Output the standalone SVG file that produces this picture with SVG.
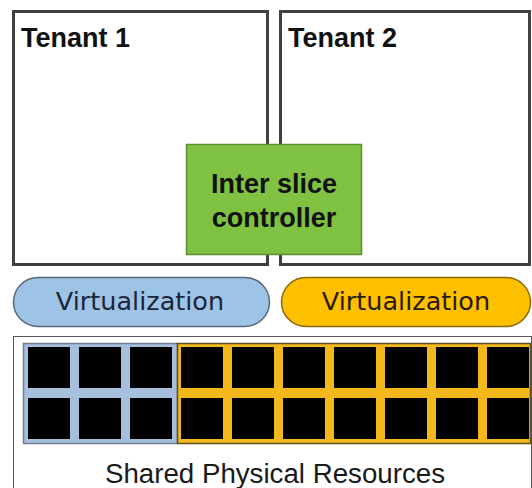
<svg xmlns="http://www.w3.org/2000/svg" width="532" height="488" viewBox="0 0 532 488">
<style>
.tenant{fill:#ffffff;stroke:#404040;stroke-width:3}
.title{font-family:"Liberation Sans",Arial,sans-serif;font-weight:bold;font-size:27px;fill:#111}
.virt{font-family:"DejaVu Sans",Verdana,sans-serif;font-size:25.5px;text-anchor:middle}
.sq{fill:#000000}
</style>
<rect width="532" height="488" fill="#ffffff"/>
<g id="tenant1">
<rect class="tenant" x="13.5" y="11.5" width="254" height="253"/>
<text class="title" x="21" y="47" font-size="28">Tenant 1</text>
</g>
<g id="tenant2">
<rect class="tenant" x="280.5" y="11.5" width="249" height="253"/>
<text class="title" x="288" y="47" font-size="28">Tenant 2</text>
</g>
<g id="controller">
<rect x="186.5" y="144.5" width="175" height="110" fill="#7fc241" stroke="#5e8f33" stroke-width="1.5"/>
<text class="title" x="274" y="193" text-anchor="middle" fill="#111">Inter slice</text>
<text class="title" x="274" y="227" text-anchor="middle" fill="#111">controller</text>
</g>
<g id="virt1">
<rect x="13.5" y="277.5" width="256" height="49" rx="24.5" fill="#9dc3e6" stroke="#5a6a7c" stroke-width="1.5"/>
<text class="virt" x="140" y="310" fill="#1c2636">Virtualization</text>
</g>
<g id="virt2">
<rect x="281.5" y="277.5" width="249" height="49" rx="24.5" fill="#ffc000" stroke="#8a6a10" stroke-width="1.5"/>
<text class="virt" x="406" y="310" fill="#2a1a08">Virtualization</text>
</g>
<g id="shared">
<rect x="13.5" y="336.5" width="518" height="160" fill="#ffffff" stroke="#555555" stroke-width="1"/>
<rect x="23.5" y="343.5" width="154" height="100" fill="#a5bfdc" stroke="#6f7d8c" stroke-width="1.5"/>
<rect x="177.5" y="343.5" width="353" height="100" fill="#f2b81c" stroke="#5f5020" stroke-width="1.5"/>
<g>
<rect class="sq" x="28" y="347" width="42" height="41"/><rect class="sq" x="79" y="347" width="42" height="41"/><rect class="sq" x="130" y="347" width="42" height="41"/><rect class="sq" x="181" y="347" width="42" height="41"/><rect class="sq" x="232" y="347" width="42" height="41"/><rect class="sq" x="283" y="347" width="42" height="41"/><rect class="sq" x="334" y="347" width="42" height="41"/><rect class="sq" x="385" y="347" width="42" height="41"/><rect class="sq" x="436" y="347" width="42" height="41"/><rect class="sq" x="487" y="347" width="42" height="41"/>
<rect class="sq" x="28" y="398" width="42" height="41"/><rect class="sq" x="79" y="398" width="42" height="41"/><rect class="sq" x="130" y="398" width="42" height="41"/><rect class="sq" x="181" y="398" width="42" height="41"/><rect class="sq" x="232" y="398" width="42" height="41"/><rect class="sq" x="283" y="398" width="42" height="41"/><rect class="sq" x="334" y="398" width="42" height="41"/><rect class="sq" x="385" y="398" width="42" height="41"/><rect class="sq" x="436" y="398" width="42" height="41"/><rect class="sq" x="487" y="398" width="42" height="41"/>
</g>
<text x="275" y="483" text-anchor="middle" font-family="'Liberation Sans',Arial,sans-serif" font-size="27.7" fill="#1a1a1a">Shared Physical Resources</text>
</g>
<g id="connectors"></g>
</svg>
